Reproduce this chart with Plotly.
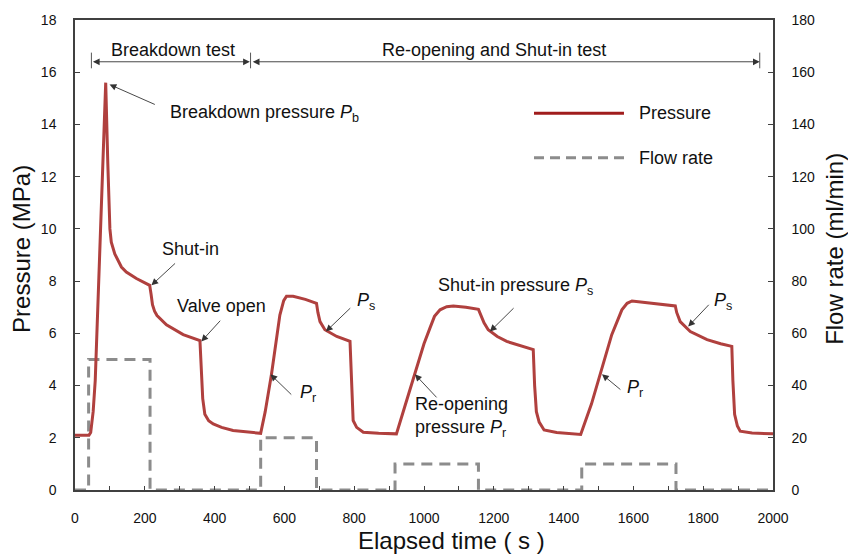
import plotly.graph_objects as go

# Pressure record (MPa) against elapsed time (s)
time_s = [0, 40, 45, 52, 58, 65, 73, 79, 88, 94, 100, 104, 114, 133, 147, 176, 214,
          218, 222, 228, 235, 262, 310, 358, 362, 366, 372, 383, 396, 420, 453, 490, 532,
          545, 563, 587, 598, 606, 625, 660, 692, 696, 702, 716, 750, 788, 792, 797, 807, 826, 870, 921,
          945, 970, 1000, 1017, 1030, 1046, 1065, 1084, 1120, 1156, 1162, 1172, 1184, 1210, 1237, 1275, 1313,
          1317, 1322, 1330, 1344, 1380, 1449,
          1480, 1505, 1538, 1567, 1582, 1596, 1640, 1680, 1720, 1724, 1734, 1763, 1811, 1850, 1882,
          1885, 1890, 1898, 1906, 1940, 2000]
pressure_mpa = [2.1, 2.1, 2.2, 3.0, 4.2, 6.8, 10.0, 12.5, 15.6, 12.5, 10.0, 9.49, 9.04, 8.54, 8.35, 8.1, 7.84,
                7.5, 7.1, 6.85, 6.68, 6.33, 5.95, 5.72, 4.5, 3.5, 2.9, 2.65, 2.53, 2.4, 2.28, 2.22, 2.17,
                3.0, 4.43, 6.7, 7.25, 7.42, 7.42, 7.3, 7.15, 6.8, 6.45, 6.14, 5.88, 5.69, 4.5, 2.66, 2.4, 2.21, 2.17, 2.15,
                3.2, 4.3, 5.6, 6.2, 6.65, 6.9, 7.02, 7.05, 7.0, 6.92, 6.7, 6.4, 6.14, 5.88, 5.69, 5.52, 5.38,
                4.0, 3.0, 2.6, 2.3, 2.2, 2.13,
                3.3, 4.43, 5.95, 6.9, 7.15, 7.24, 7.17, 7.1, 7.05, 6.8, 6.45, 6.07, 5.76, 5.6, 5.5,
                4.2, 2.9, 2.45, 2.25, 2.18, 2.15]

# Injection flow rate (ml/min), stepwise
flow_time_s = [0, 39, 215, 532, 692, 917, 1156, 1452, 1722, 2000]
flow_ml_min = [0, 50, 0, 20, 0, 10, 0, 10, 0, 0]

x_tick_vals = list(range(0, 2001, 100))
x_tick_text = [str(v) if v % 200 == 0 else "" for v in x_tick_vals]
p_tick_vals = list(range(0, 19, 2))
q_tick_vals = list(range(0, 181, 20))

FONT = "Liberation Sans, Arial, sans-serif"
TXT = "#111111"
AX = "#404040"
RED = "#B0403E"
GREY = "#8C8C8C"

fig = go.Figure()

fig.add_trace(go.Scatter(
    x=flow_time_s, y=flow_ml_min, mode="lines", line_shape="hv",
    line=dict(color=GREY, width=3, dash="11px,7px"),
    cliponaxis=False, yaxis="y", showlegend=False, name="Flow rate"))

fig.add_trace(go.Scatter(
    x=time_s, y=pressure_mpa, mode="lines",
    line=dict(color=RED, width=3), yaxis="y2", showlegend=False, name="Pressure"))

ann = []


def label(x, y, text, xanchor="center", align="center"):
    ann.append(dict(x=x, y=y, xref="x", yref="y2", text=text, showarrow=False,
                    xanchor=xanchor, yanchor="middle", align=align,
                    font=dict(family=FONT, size=18, color=TXT)))


def pointer(x_tail, y_tail, x_head, y_head):
    ann.append(dict(x=x_head, y=y_head, ax=x_tail, ay=y_tail, xref="x", yref="y2",
                    axref="x", ayref="y2", text="", showarrow=True, arrowhead=2,
                    arrowsize=1.5, arrowwidth=0.9, arrowcolor="#333333", standoff=0))


# Test phase spans along the top
for x0, x1 in [(47, 501), (505, 1962)]:
    ann.append(dict(x=x1, y=16.4, ax=x0, ay=16.4, xref="x", yref="y2", axref="x", ayref="y2",
                    text="", showarrow=True, arrowhead=2, arrowside="end+start",
                    arrowsize=1.5, arrowwidth=0.9, arrowcolor="#333333", standoff=0, startstandoff=0))
label(280, 16.84, "Breakdown test")
label(1201, 16.84, "Re-opening and Shut-in test")

# Event labels and pointers
label(266, 14.42, "Breakdown pressure <i>P</i><sub>b</sub>", xanchor="left")
pointer(233, 14.74, 99, 15.53)
label(332, 9.22, "Shut-in")
pointer(291, 8.73, 219, 7.84)
label(420, 7.06, "Valve open")
pointer(420, 6.54, 362, 5.69)
label(802, 7.21, "<i>P</i><sub>s</sub>", xanchor="left")
pointer(793, 7.02, 719, 6.07)
label(639, 3.68, "<i>P</i><sub>r</sub>", xanchor="left")
pointer(624, 3.6, 560, 4.43)
label(1034, 7.8, "Shut-in pressure <i>P</i><sub>s</sub>", xanchor="left")
pointer(1261, 7.02, 1189, 6.07)
label(969, 2.8, "Re-opening<br>pressure <i>P</i><sub>r</sub>", xanchor="left", align="left")
pointer(1040, 3.49, 974, 4.43)
label(1825, 7.21, "<i>P</i><sub>s</sub>", xanchor="left")
pointer(1820, 7.15, 1757, 6.26)
label(1576, 3.88, "<i>P</i><sub>r</sub>", xanchor="left")
pointer(1567, 3.8, 1510, 4.43)

# Legend entries
ann.append(dict(x=0.805, y=0.8017, xref="paper", yref="paper", text="Pressure", showarrow=False,
                xanchor="left", yanchor="middle", font=dict(family=FONT, size=18, color=TXT)))
ann.append(dict(x=0.805, y=0.7068, xref="paper", yref="paper", text="Flow rate", showarrow=False,
                xanchor="left", yanchor="middle", font=dict(family=FONT, size=18, color=TXT)))

# Axis titles
ann.append(dict(x=-0.0759, y=0.513, xref="paper", yref="paper", text="Pressure (MPa)",
                textangle=-90, showarrow=False, xanchor="center", yanchor="middle",
                font=dict(family=FONT, size=24, color=TXT)))
ann.append(dict(x=1.0888, y=0.513, xref="paper", yref="paper", text="Flow rate (ml/min)",
                textangle=-90, showarrow=False, xanchor="center", yanchor="middle",
                font=dict(family=FONT, size=24, color=TXT)))
ann.append(dict(x=0.5387, y=-0.1076, xref="paper", yref="paper", text="Elapsed time ( s )",
                showarrow=False, xanchor="center", yanchor="middle",
                font=dict(family=FONT, size=24, color=TXT)))

shapes = [
    dict(type="line", xref="paper", yref="paper", x0=0.6576, x1=0.7865, y0=0.8017, y1=0.8017,
         line=dict(color="#A01C1C", width=3)),
    dict(type="line", xref="paper", yref="paper", x0=0.6576, x1=0.7908, y0=0.7068, y1=0.7068,
         line=dict(color=GREY, width=3, dash="10px,6px")),
]
for xb in [47, 503, 1962]:
    shapes.append(dict(type="line", xref="x", yref="y2", x0=xb, x1=xb, y0=16.15, y1=16.75,
                       line=dict(color="#555555", width=1)))

tick_font = dict(family=FONT, size=14, color=TXT)

fig.update_layout(
    width=848, height=556,
    margin=dict(l=75, r=75, t=16, b=66),
    paper_bgcolor="white", plot_bgcolor="white",
    showlegend=False,
    annotations=ann, shapes=shapes,
    xaxis=dict(range=[0, 2000], tickvals=x_tick_vals, ticktext=x_tick_text,
               ticks="inside", ticklen=4, tickwidth=1, tickcolor=AX,
               showline=True, linecolor=AX, linewidth=1.5, mirror=True,
               showgrid=False, zeroline=False, tickfont=tick_font, ticklabelstandoff=14),
    yaxis=dict(range=[0, 180], tickvals=q_tick_vals, side="right",
               ticks="inside", ticklen=5, tickwidth=1, tickcolor=AX,
               showline=True, linecolor=AX, linewidth=1.5,
               showgrid=False, zeroline=False, tickfont=tick_font, ticklabelstandoff=14),
    yaxis2=dict(range=[0, 18], tickvals=p_tick_vals, side="left", overlaying="y",
                ticks="inside", ticklen=5, tickwidth=1, tickcolor=AX,
                showline=True, linecolor=AX, linewidth=1.5,
                showgrid=False, zeroline=False, tickfont=tick_font, ticklabelstandoff=14),
)

fig.write_html("out.html")
